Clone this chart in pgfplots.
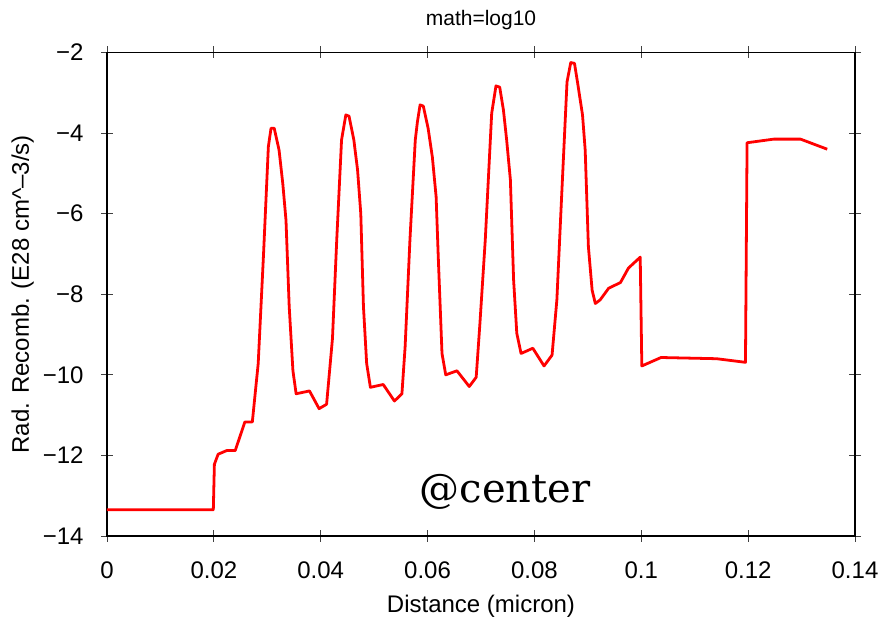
\documentclass[border=0pt]{standalone}
\usepackage{pgfplots}
\pgfplotsset{compat=1.18}
\usepackage{fontspec}
\setmainfont{Liberation Sans}
\newfontfamily\serifat{DejaVu Serif}
\begin{document}
\begin{tikzpicture}
\begin{axis}[
  at={(0bp,0bp)}, anchor=south west,
  scale only axis, width=748bp, height=483.5bp,
  xmin=0, xmax=0.14, ymin=-14, ymax=-2,
  xtick={0,0.02,0.04,0.06,0.08,0.1,0.12,0.14},
  xticklabels={0,0.02,0.04,0.06,0.08,0.1,0.12,0.14},
  ytick={-14,-12,-10,-8,-6,-4,-2},
  yticklabels={−14,−12,−10,−8,−6,−4,−2},
  tick align=center, major tick length=12bp,
  tick style={line width=1pt, black!75},
  axis line style={line width=1.6pt},
  tick label style={font=\fontsize{24bp}{28bp}\selectfont},
  label style={font=\fontsize{24bp}{28bp}\selectfont},
  xlabel={Distance (micron)},
  ylabel={Rad. Recomb. (E28 cm\textasciicircum{}–3/s)},
  title={math=log10},
  title style={font=\fontsize{21bp}{24bp}\selectfont, yshift=13bp},
  xticklabel style={yshift=-16bp},
  yticklabel style={xshift=-14bp},
  xlabel style={yshift=-10bp},
  ylabel style={yshift=2bp},
  scaled x ticks=false,
  clip=false,
]
\addplot[red, line width=2.8pt, line join=round] coordinates {
(0,-13.35) (0.0199,-13.35) (0.0201,-12.22) (0.0208,-11.97) (0.0224,-11.88) (0.024,-11.88)
(0.0258,-11.17) (0.0272,-11.17) (0.0283,-9.72) (0.0293,-7.0) (0.0302,-4.34) (0.0307,-3.88)
(0.0313,-3.88) (0.0322,-4.42) (0.0329,-5.25) (0.0335,-6.16) (0.0341,-8.3) (0.0348,-9.9)
(0.0354,-10.47) (0.0379,-10.4) (0.0397,-10.84) (0.0411,-10.73) (0.0422,-9.1) (0.043,-6.65)
(0.0439,-4.17) (0.0447,-3.55) (0.0453,-3.58) (0.0462,-4.17) (0.0469,-4.92) (0.0475,-6.0)
(0.048,-8.31) (0.0486,-9.72) (0.0493,-10.31) (0.0517,-10.24) (0.0538,-10.65) (0.0552,-10.47)
(0.0558,-9.3) (0.0567,-6.65) (0.0577,-4.17) (0.0581,-3.72) (0.0586,-3.3) (0.0592,-3.33)
(0.0601,-3.88) (0.0609,-4.6) (0.0616,-5.58) (0.062,-7.07) (0.0627,-9.47) (0.0634,-10.0)
(0.0655,-9.9) (0.0678,-10.29) (0.0691,-10.06) (0.0698,-8.72) (0.0708,-6.65) (0.072,-3.51)
(0.0728,-2.83) (0.0735,-2.86) (0.0742,-3.43) (0.0748,-4.17) (0.0755,-5.16) (0.0761,-7.64)
(0.0767,-8.97) (0.0775,-9.47) (0.0797,-9.34) (0.0818,-9.78) (0.0833,-9.51) (0.0842,-8.14)
(0.085,-5.83) (0.0861,-2.73) (0.0868,-2.25) (0.0875,-2.27) (0.0881,-2.77) (0.089,-3.55)
(0.0895,-4.42) (0.0901,-6.82) (0.0908,-7.9) (0.0914,-8.23) (0.0923,-8.14) (0.0939,-7.85)
(0.0961,-7.71) (0.0976,-7.35) (0.0998,-7.08) (0.1001,-9.78) (0.1037,-9.57) (0.1141,-9.6)
(0.1195,-9.69) (0.1198,-4.24) (0.1248,-4.15) (0.1298,-4.15) (0.1348,-4.4)
};
\node[font=\serifat\fontsize{40bp}{44bp}\selectfont, inner sep=0pt] at (axis cs:0.0745,-12.9) {@center};
\end{axis}
\path[use as bounding box] (-107bp,-80bp) rectangle (777bp,536bp);
\end{tikzpicture}
\end{document}
